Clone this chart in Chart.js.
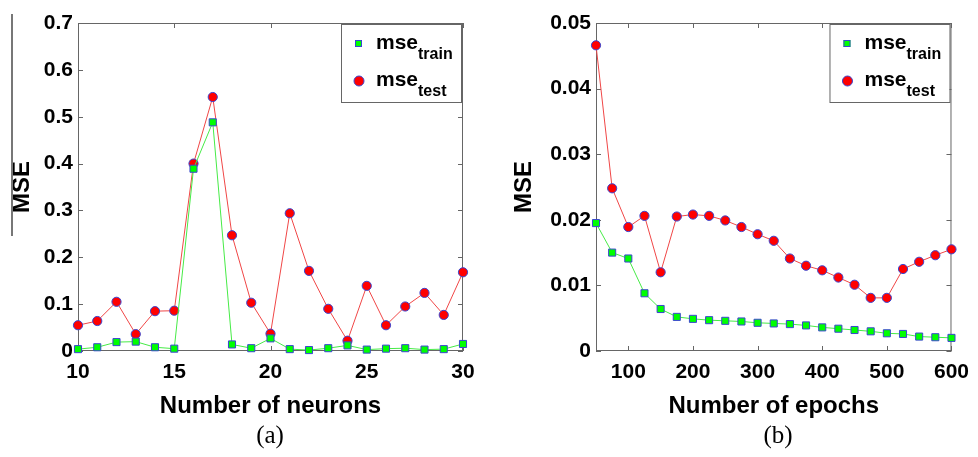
<!DOCTYPE html>
<html>
<head>
<meta charset="utf-8">
<script src="https://cdn.jsdelivr.net/npm/chart.js@4.4.0/dist/chart.umd.min.js"></script>
<style>
  body { margin: 0; background: #fff; width: 978px; height: 457px; overflow: hidden; position: relative; }
  .wrap { position: absolute; top: 0; width: 489px; height: 457px; }
  #wrapA { left: 0; }
  #wrapB { left: 489px; }
  .cap { position: absolute; top: 421px; width: 100px; text-align: center; font-family: "Liberation Serif", "Times New Roman", serif; font-size: 25px; color: #000; }
</style>
</head>
<body>
<div class="wrap" id="wrapA"><canvas id="chartA"></canvas></div>
<div class="wrap" id="wrapB"><canvas id="chartB"></canvas></div>
<div class="cap" style="left:220px">(a)</div>
<div class="cap" style="left:728px">(b)</div>
<script>
// (a) MSE gegen Anzahl Neuronen
const neurons = [10, 11, 12, 13, 14, 15, 16, 17, 18, 19, 20, 21, 22, 23, 24, 25, 26, 27, 28, 29, 30];
const trainA = [0.004, 0.008, 0.019, 0.020, 0.008, 0.005, 0.389, 0.488, 0.014, 0.006, 0.027,
                0.004, 0.002, 0.006, 0.012, 0.003, 0.005, 0.006, 0.003, 0.004, 0.015];
const testA = [0.055, 0.064, 0.105, 0.036, 0.085, 0.086, 0.400, 0.542, 0.247, 0.103, 0.037,
               0.294, 0.171, 0.090, 0.022, 0.139, 0.055, 0.095, 0.124, 0.077, 0.168];
const xTicksA = [10, 15, 20, 25, 30];
const yTicksA = [0, 0.1, 0.2, 0.3, 0.4, 0.5, 0.6, 0.7];

// (b) MSE gegen Anzahl Epochen
const epochs = [50, 75, 100, 125, 150, 175, 200, 225, 250, 275, 300, 325, 350, 375, 400, 425,
                450, 475, 500, 525, 550, 575, 600];
const trainB = [0.0195, 0.0150, 0.0141, 0.0088, 0.0064, 0.0052, 0.0049, 0.0047, 0.0046, 0.0045,
                0.0043, 0.0042, 0.0041, 0.0039, 0.0036, 0.0034, 0.0032, 0.0030, 0.0027, 0.0026,
                0.0022, 0.0021, 0.0020];
const testB = [0.0466, 0.0248, 0.0189, 0.0206, 0.0120, 0.0205, 0.0208, 0.0206, 0.0199, 0.0189,
               0.0178, 0.0168, 0.0141, 0.0130, 0.0123, 0.0112, 0.0101, 0.0081, 0.0081, 0.0125,
               0.0136, 0.0146, 0.0155];
const xTicksB = [100, 200, 300, 400, 500, 600];
const yTicksB = [0, 0.01, 0.02, 0.03, 0.04, 0.05];

const FONT = '"Liberation Sans", Arial, Helvetica, sans-serif';
const frameColor = '#666';
const markerEdge = '#3a46d0';

// Rahmen mit Ticks nach innen (wie MATLAB "box on")
const framePlugin = {
    id: 'frame',
    beforeDatasetsDraw(chart) {
        const {ctx, chartArea: a, scales} = chart;
        const len = 5;
        ctx.save();
        ctx.strokeStyle = frameColor;
        ctx.lineWidth = 1;
        ctx.strokeRect(a.left + 0.5, a.top + 0.5, a.right - a.left - 1, a.bottom - a.top - 1);
        ctx.beginPath();
        scales.x.ticks.forEach(t => {
            const px = Math.round(scales.x.getPixelForValue(t.value)) + 0.5;
            ctx.moveTo(px, a.top); ctx.lineTo(px, a.top + len);
            ctx.moveTo(px, a.bottom); ctx.lineTo(px, a.bottom - len);
        });
        scales.y.ticks.forEach(t => {
            const py = Math.round(scales.y.getPixelForValue(t.value)) + 0.5;
            ctx.moveTo(a.left, py); ctx.lineTo(a.left + len, py);
            ctx.moveTo(a.right, py); ctx.lineTo(a.right - len, py);
        });
        ctx.stroke();
        ctx.restore();
    }
};

// Legende mit Index (mse_train / mse_test)
const subLegendPlugin = {
    id: 'subLegend',
    afterDraw(chart) {
        const {ctx, chartArea: a} = chart;
        const w = 120, h = 78;
        const x0 = a.right - 2 - w, y0 = a.top + 1;
        ctx.save();
        ctx.fillStyle = '#fff';
        ctx.fillRect(x0, y0, w, h);
        ctx.strokeStyle = frameColor;
        ctx.lineWidth = 1;
        ctx.strokeRect(x0 + 0.5, y0 + 0.5, w, h);

        // Symbole
        ctx.fillStyle = '#00ff00';
        ctx.strokeStyle = markerEdge;
        ctx.fillRect(x0 + 14, y0 + 16, 7, 7);
        ctx.strokeRect(x0 + 14.5, y0 + 16.5, 6, 6);
        ctx.beginPath();
        ctx.arc(x0 + 18, y0 + 57, 5, 0, Math.PI * 2);
        ctx.fillStyle = '#ff0000';
        ctx.fill();
        ctx.stroke();

        ctx.fillStyle = '#000';
        ctx.textBaseline = 'alphabetic';
        ctx.textAlign = 'left';
        const rows = [['train', 25], ['test', 62]];
        rows.forEach(([sub, base]) => {
            ctx.font = 'bold 21px ' + FONT;
            ctx.fillText('mse', x0 + 35, y0 + base);
            const mw = ctx.measureText('mse').width;
            ctx.font = 'bold 16px ' + FONT;
            ctx.fillText(sub, x0 + 35 + mw, y0 + base + 10);
        });
        ctx.restore();
    }
};

// grauer Strich links neben Bild (a)
const sideLinePlugin = {
    id: 'sideLine',
    afterDraw(chart) {
        const ctx = chart.ctx;
        ctx.save();
        ctx.strokeStyle = '#777';
        ctx.lineWidth = 2;
        ctx.beginPath();
        ctx.moveTo(12, 14);
        ctx.lineTo(12, 236);
        ctx.stroke();
        ctx.restore();
    }
};

function makeChart(canvasId, xs, train, test, xTicks, yTicks, xTitle, yAxisWidth, padLeft, plotWidth, fmtY, extraPlugins) {
    const toXY = (ys) => xs.map((x, i) => ({x: x, y: ys[i]}));
    return new Chart(document.getElementById(canvasId), {
        type: 'line',
        data: {
            datasets: [
                {
                    label: 'mse_train',
                    data: toXY(train),
                    borderColor: 'rgb(70,235,70)',
                    borderWidth: 1,
                    backgroundColor: '#00ff00',
                    pointStyle: 'rect',
                    pointRadius: 5,
                    pointBorderColor: markerEdge,
                    pointBorderWidth: 1,
                    pointBackgroundColor: '#00ff00',
                    clip: false
                },
                {
                    label: 'mse_test',
                    data: toXY(test),
                    borderColor: 'rgb(240,70,70)',
                    borderWidth: 1,
                    backgroundColor: '#ff0000',
                    pointStyle: 'circle',
                    pointRadius: 4.6,
                    pointBorderColor: markerEdge,
                    pointBorderWidth: 1,
                    pointBackgroundColor: '#ff0000',
                    clip: false
                }
            ]
        },
        options: {
            responsive: true,
            maintainAspectRatio: false,
            animation: false,
            layout: {padding: {left: padLeft, top: 23, right: 489 - (padLeft + yAxisWidth) - plotWidth, bottom: 34}},
            plugins: {
                legend: {display: false},
                tooltip: {enabled: false}
            },
            scales: {
                x: {
                    type: 'linear',
                    min: xs[0],
                    max: xs[xs.length - 1],
                    afterBuildTicks: s => { s.ticks = xTicks.map(v => ({value: v})); },
                    afterFit: s => { s.height = 72; },
                    grid: {display: false, drawTicks: false},
                    border: {display: false},
                    ticks: {
                        color: '#000',
                        padding: 9,
                        maxRotation: 0,
                        font: {family: FONT, size: 21, weight: 'bold'}
                    },
                    title: {
                        display: true,
                        text: xTitle,
                        color: '#000',
                        padding: {top: 0, bottom: 2},
                        font: {family: FONT, size: 24, weight: 'bold'}
                    }
                },
                y: {
                    type: 'linear',
                    min: yTicks[0],
                    max: yTicks[yTicks.length - 1],
                    afterBuildTicks: s => { s.ticks = yTicks.map(v => ({value: v})); },
                    afterFit: s => { s.width = yAxisWidth; },
                    grid: {display: false, drawTicks: false},
                    border: {display: false},
                    ticks: {
                        color: '#000',
                        padding: 5,
                        callback: fmtY,
                        font: {family: FONT, size: 21, weight: 'bold'}
                    },
                    title: {
                        display: true,
                        text: 'MSE',
                        color: '#000',
                        padding: {top: 8, bottom: 0},
                        font: {family: FONT, size: 24, weight: 'bold'}
                    }
                }
            }
        },
        plugins: [framePlugin, subLegendPlugin].concat(extraPlugins)
    });
}

makeChart('chartA', neurons, trainA, testA, xTicksA, yTicksA, 'Number of neurons', 78, 0, 385,
    v => v === 0 ? '0' : v.toFixed(1), [sideLinePlugin]);
makeChart('chartB', epochs, trainB, testB, xTicksB, yTicksB, 'Number of epochs', 94, 13, 363,
    v => v === 0 ? '0' : v.toFixed(2), []);
</script>
</body>
</html>
